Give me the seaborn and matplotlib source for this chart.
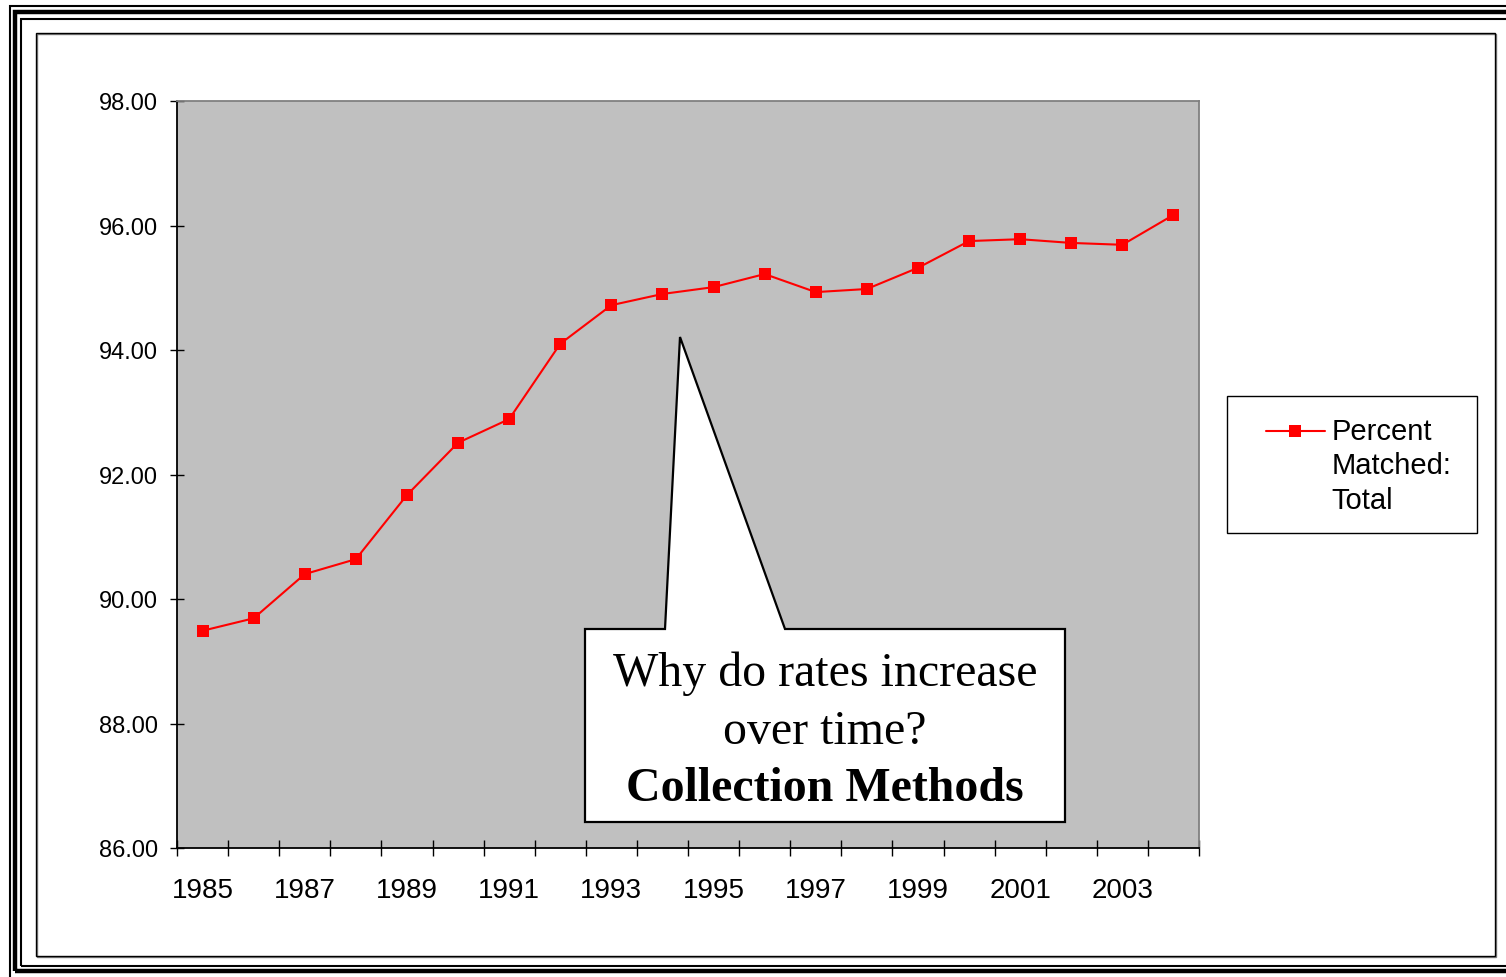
import numpy as np
import pandas as pd
import seaborn as sns
import matplotlib
matplotlib.use("Agg")
import matplotlib.pyplot as plt
from matplotlib.patches import Rectangle, Polygon

######DATA#############
years = list(range(1985, 2005))
pct_matched = [89.49, 89.69, 90.40, 90.64, 91.67, 92.51, 92.89, 94.10, 94.72, 94.90,
               95.01, 95.22, 94.93, 94.98, 95.32, 95.75, 95.78, 95.72, 95.69, 96.17]
y_ticks = [86, 88, 90, 92, 94, 96, 98]
x_labels = [str(y) for y in years[::2]]
series_name = "Percent\nMatched:\nTotal"
callout_lines = ["Why do rates increase", "over time?", "Collection Methods"]

W, H = 1506, 978


def fx(px):
    return px / W


def fy(py):
    return 1 - py / H


sns.set_style("white")
plt.rcParams['font.family'] = ['Liberation Sans', 'DejaVu Sans']
plt.rcParams['text.color'] = 'black'
plt.rcParams['xtick.color'] = 'black'
plt.rcParams['ytick.color'] = 'black'
plt.rcParams['xtick.labelcolor'] = 'black'
plt.rcParams['ytick.labelcolor'] = 'black'

fig = plt.figure(figsize=(W / 100, H / 100), dpi=100)
fig.patch.set_facecolor('white')

ax = fig.add_axes([fx(177), fy(849), fx(1199) - fx(177), fy(102) - fy(849)])
ax.set_facecolor('#C0C0C0')

df = pd.DataFrame({'pos': np.arange(len(years)), 'pct': pct_matched})
sns.lineplot(data=df, x='pos', y='pct', ax=ax, color='#FF0000', lw=1.5,
             marker='s', markersize=8.5, markeredgewidth=0, legend=False)

# axes / ticks
ax.set_xlim(-0.5, len(years) - 0.5)
ax.set_ylim(y_ticks[0], y_ticks[-1])
ax.set_yticks(y_ticks)
ax.set_yticklabels(['%.2f' % v for v in y_ticks])
ax.set_xticks(np.arange(-0.5, len(years)))
ax.set_xticklabels([])
ax.set_xticks(np.arange(0, len(years), 2), minor=True)
ax.set_xticklabels(x_labels, minor=True)
ax.tick_params(axis='x', which='major', direction='inout', length=12, width=1,
               color='black', bottom=True)
ax.tick_params(axis='x', which='minor', length=0, labelsize=20, pad=21,
               bottom=True, labelcolor='black')
ax.tick_params(axis='y', which='major', direction='inout', length=10, width=1,
               color='black', labelsize=17, pad=8.5, left=True, labelcolor='black')
ax.set_xlabel('')
ax.set_ylabel('')
ax.grid(False)
for side in ['left', 'bottom']:
    ax.spines[side].set_color('black')
    ax.spines[side].set_linewidth(1.3)
for side in ['top', 'right']:
    ax.spines[side].set_color('#808080')
    ax.spines[side].set_linewidth(1.3)
for side in ax.spines:
    ax.spines[side].set_visible(True)

# callout
def afx(px):
    return (px - 177) / 1022


def afy(py):
    return (849 - py) / 747


callout = Polygon([(afx(585), afy(630)), (afx(665), afy(630)), (afx(680), afy(338)),
                   (afx(785), afy(630)), (afx(1065), afy(630)), (afx(1065), afy(823)),
                   (afx(585), afy(823))], closed=True, transform=ax.transAxes,
                  facecolor='white', edgecolor='black', lw=1.6, zorder=5, clip_on=False)
ax.add_patch(callout)
for txt, py, wt in zip(callout_lines, [674, 732, 789], ['normal', 'normal', 'bold']):
    fig.text(fx(825), fy(py), txt, ha='center', va='center', fontsize=34.5,
             family=['Liberation Serif', 'DejaVu Serif'], weight=wt, zorder=6,
             color='black')

# legend
fig.add_artist(Rectangle((fx(1227), fy(534)), fx(1477) - fx(1227), fy(397) - fy(534),
                         transform=fig.transFigure, fill=False, edgecolor='black', lw=1))
leg = fig.legend([ax.lines[0]], [series_name], loc='upper left',
                 bbox_to_anchor=(fx(1251), fy(403)), frameon=False, fontsize=21,
                 borderpad=0, handlelength=2.05, handletextpad=0.2)
leg.get_texts()[0].set_linespacing(1.3)
leg.get_texts()[0].set_color('black')
hl = leg.legend_handles[0]
hl.set_ydata(np.asarray(hl.get_ydata()) + 25.5)

# page frames
def frame(l, t, r, b, lw, color='black'):
    fig.add_artist(Rectangle((fx(l), fy(b)), fx(r) - fx(l), fy(t) - fy(b),
                             transform=fig.transFigure, fill=False,
                             edgecolor=color, lw=lw, clip_on=False))


frame(9.5, 6.5, 1515, 985, 1.5)
frame(15, 12.5, 1512, 972, 3.2)
frame(21, 20, 1510, 966.5, 1.5)
frame(36.5, 34.5, 1495.5, 958, 1, '#808080')
frame(35.5, 33.5, 1494.5, 957, 1)

fig.savefig('out.png', dpi=100)
